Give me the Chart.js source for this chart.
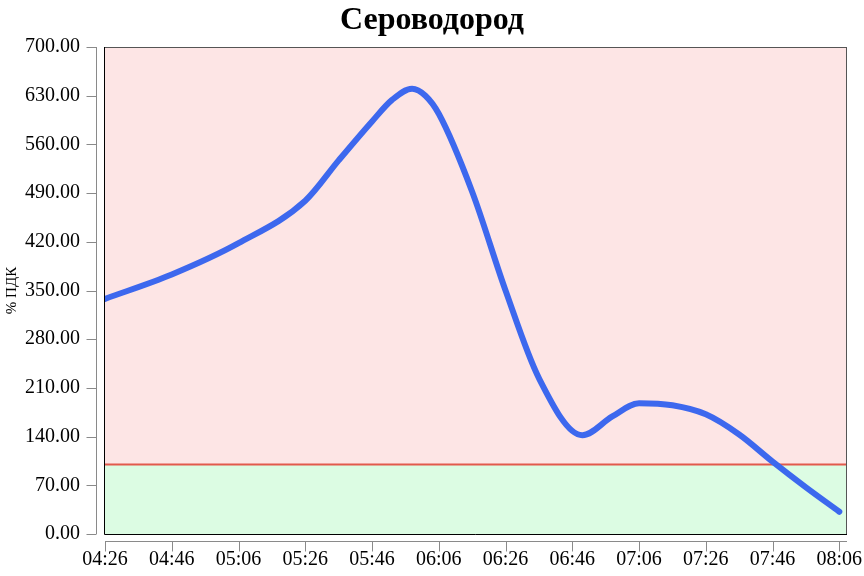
<!DOCTYPE html>
<html>
<head>
<meta charset="utf-8">
<script src="https://cdn.jsdelivr.net/npm/chart.js@4.4.1/dist/chart.umd.min.js"></script>
<style>
  html, body { margin: 0; padding: 0; background: #fff; }
  #wrap { width: 864px; height: 576px; }
</style>
</head>
<body>
<div id="wrap"><canvas id="c" width="864" height="576"></canvas></div>
<script>
// ---- data ----
const chartTitle = 'Сероводород';
const yAxisTitle = '% ПДК';
const times = ['04:26','04:46','05:06','05:26','05:36','05:46','05:52','05:58','06:02','06:06','06:16','06:26','06:36','06:49','06:58','07:06','07:16','07:26','07:36','07:46','07:56','08:06'];
const values = [338, 373, 418, 479, 537, 593, 624, 640, 630, 604, 492, 350, 224, 142, 169, 188, 185, 172, 143, 104, 67, 32];
const xTickLabels = ['04:26','04:46','05:06','05:26','05:46','06:06','06:26','06:46','07:06','07:26','07:46','08:06'];
const threshold = 100;
const yMin = 0, yMax = 700, yStep = 70;
const xStart = '04:26';
const xEnd = '08:08.3';

function toMin(s) { const p = s.split(':'); return parseInt(p[0], 10) * 60 + parseFloat(p[1]); }
function fmt(m) { const h = Math.floor(m / 60), mm = Math.round(m - h * 60); return String(h).padStart(2, '0') + ':' + String(mm).padStart(2, '0'); }

const xMin = toMin(xStart), xMax = toMin(xEnd);
const mainData = times.map((t, i) => ({ x: toMin(t), y: values[i] }));
const thrData = [{ x: xMin, y: threshold }, { x: xMax, y: threshold }];

const FONT = "'Liberation Serif', 'Times New Roman', serif";

const axesPlugin = {
  id: 'axesFrame',
  afterDraw(chart) {
    const { ctx, chartArea: a, scales: { x, y } } = chart;
    ctx.save();
    ctx.lineWidth = 1;
    // frame
    ctx.strokeStyle = '#555';
    ctx.beginPath();
    ctx.moveTo(a.left, a.top + 0.5); ctx.lineTo(a.right, a.top + 0.5);
    ctx.moveTo(a.right - 0.5, a.top); ctx.lineTo(a.right - 0.5, a.bottom);
    ctx.stroke();
    ctx.strokeStyle = '#000';
    ctx.beginPath();
    ctx.moveTo(a.left - 0.5, a.top); ctx.lineTo(a.left - 0.5, a.bottom + 0.5);
    ctx.lineTo(a.right, a.bottom + 0.5);
    ctx.stroke();
    // offset axes
    ctx.strokeStyle = '#8a8a8a';
    const ax = Math.round(a.left - 9) + 0.5;
    ctx.beginPath();
    ctx.moveTo(ax, y.getPixelForValue(yMax)); ctx.lineTo(ax, y.getPixelForValue(yMin));
    y.ticks.forEach(t => {
      const py = Math.round(y.getPixelForValue(t.value)) + 0.5;
      ctx.moveTo(ax - 10, py); ctx.lineTo(ax, py);
    });
    const ay = Math.round(a.bottom + 7) + 0.5;
    ctx.moveTo(a.left, ay); ctx.lineTo(a.right, ay);
    x.ticks.forEach(t => {
      const px = Math.round(x.getPixelForValue(t.value)) + 0.5;
      ctx.moveTo(px, ay); ctx.lineTo(px, ay + 10);
    });
    ctx.stroke();
    ctx.restore();
  }
};

new Chart(document.getElementById('c'), {
  type: 'line',
  data: {
    datasets: [
      {
        data: mainData,
        borderColor: '#3D68EE',
        borderWidth: 6,
        pointRadius: 0,
        cubicInterpolationMode: 'monotone',
        fill: false,
        borderCapStyle: 'round',
        borderJoinStyle: 'round'
      },
      {
        data: thrData,
        borderColor: '#E2594C',
        borderWidth: 2,
        pointRadius: 0,
        backgroundColor: '#FDE5E5',
        fill: 'end'
      },
      {
        data: thrData,
        borderWidth: 0,
        borderColor: 'rgba(0,0,0,0)',
        pointRadius: 0,
        backgroundColor: '#DCFCE3',
        fill: 'start'
      }
    ]
  },
  options: {
    responsive: false,
    animation: false,
    devicePixelRatio: 1,
    layout: { padding: 0 },
    plugins: {
      legend: { display: false },
      tooltip: { enabled: false },
      title: {
        display: true,
        text: chartTitle,
        color: '#000',
        font: { family: FONT, size: 32, weight: 'bold' },
        padding: { top: 2, bottom: 6.6 }
      }
    },
    scales: {
      x: {
        type: 'linear',
        min: xMin,
        max: xMax,
        grid: { display: false, drawTicks: false },
        border: { display: false },
        afterBuildTicks(scale) { scale.ticks = xTickLabels.map(l => ({ value: toMin(l) })); },
        afterFit(scale) { scale.height = 42; scale.paddingRight = 17; scale.paddingLeft = 0; },
        ticks: {
          autoSkip: false,
          maxRotation: 0,
          padding: 14,
          color: '#000',
          font: { family: FONT, size: 20 },
          callback: v => fmt(v)
        }
      },
      y: {
        min: yMin,
        max: yMax,
        grid: { display: false, drawTicks: false },
        border: { display: false },
        afterFit(scale) { scale.width = 105; scale.paddingTop = 0; scale.paddingBottom = 0; },
        title: {
          display: true,
          text: yAxisTitle,
          color: '#000',
          font: { family: FONT, size: 15 },
          padding: { top: 3, bottom: 0 }
        },
        ticks: {
          stepSize: yStep,
          padding: 25,
          color: '#000',
          font: { family: FONT, size: 20 },
          callback: v => Number(v).toFixed(2)
        }
      }
    }
  },
  plugins: [axesPlugin]
});
</script>
</body>
</html>
